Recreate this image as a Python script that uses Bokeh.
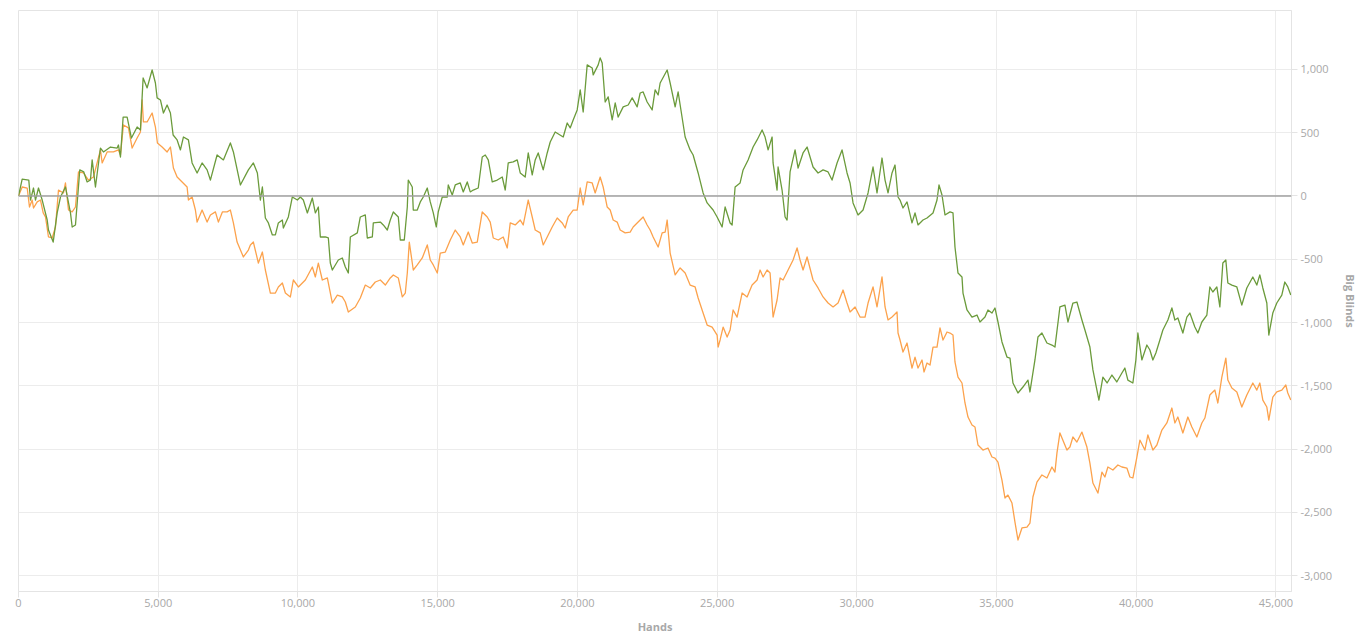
from bokeh.plotting import figure
from bokeh.models import ColumnDataSource, Range1d, Span, NumeralTickFormatter, FixedTicker
from bokeh.embed import file_html
from bokeh.resources import INLINE

# (hands, big blinds) readings for the two cumulative curves
green_series = [(0,0),(132,134),(368,126),(429,-32),(537,63),(608,-32),(715,63),(848,-32),(1027,-190),(1073,-269),
(1241,-364),(1384,-134),(1502,-8),(1681,71),(1860,-134),(1921,-245),(2039,-229),(2193,206),(2336,190),(2457,111),
(2575,126),(2636,285),(2754,71),(2933,379),(3040,348),(3291,387),(3530,379),(3577,403),(3649,308),(3745,624),
(3888,624),(4042,458),(4246,545),(4364,522),(4460,933),(4604,854),(4782,996),(4900,893),(4961,775),(5079,759),
(5187,656),(5319,719),(5437,656),(5534,482),(5677,443),(5795,364),(5902,466),(6081,443),(6213,261),(6392,182),
(6571,261),(6750,206),(6868,126),(7107,324),(7333,285),(7583,419),(7691,348),(7941,87),(8227,206),(8406,261),
(8549,182),(8656,-32),(8728,71),(8835,-174),(8943,-213),(9086,-308),(9193,-308),(9300,-213),(9443,-190),(9479,-253),
(9658,-166),(9801,-8),(9980,-32),(10087,-8),(10194,-32),(10338,-134),(10516,-16),(10624,-134),(10731,-87),(10803,-324),
(10981,-324),(11089,-332),(11160,-530),(11232,-585),(11446,-506),(11589,-490),(11697,-561),(11804,-609),(11876,-324),(12126,-292),
(12233,-166),(12412,-150),(12484,-332),(12663,-324),(12698,-213),(12949,-206),(13056,-229),(13199,-269),(13306,-190),(13414,-126),
(13593,-166),(13664,-348),(13807,-348),(13915,-87),(13950,126),(14093,71),(14129,-111),(14272,-111),(14380,-47),(14487,-8),
(14630,63),(14737,-47),(14845,-134),(14952,-245),(15023,-126),(15166,-8),(15345,-8),(15381,87),(15524,8),(15631,87),
(15810,103),(15918,32),(16061,111),(16168,32),(16275,47),(16454,63),(16597,308),(16705,324),(16812,285),(16955,111),
(17134,126),(17313,150),(17420,47),(17527,261),(17706,269),(17849,285),(17957,182),(18135,150),(18243,340),(18386,166),
(18493,285),(18600,340),(18779,206),(18922,340),(19030,427),(19208,506),(19495,466),(19638,577),(19745,538),(19852,601),
(19995,680),(20103,838),(20210,664),(20353,1036),(20532,1012),(20568,957),(20747,1036),(20818,1091),(20890,1051),(20997,743),
(21104,783),(21248,601),(21355,735),(21462,624),(21641,704),(21820,719),(21963,775),(22142,704),(22249,814),(22356,822),
(22499,743),(22678,680),(22785,838),(22893,798),(22964,893),(23215,996),(23322,893),(23501,704),(23608,822),(23859,466),
(24037,364),(24145,324),(24324,182),(24502,24),(24646,-55),(24860,-111),(25003,-166),(25182,-245),(25289,-87),(25468,-213),
(25540,-229),(25647,71),(25826,103),(25933,206),(26112,285),(26291,387),(26434,443),(26613,522),(26720,466),(26828,364),
(26971,466),(27006,261),(27149,47),(27185,229),(27328,47),(27436,-166),(27507,-190),(27614,190),(27793,364),(27901,221),
(28079,340),(28223,387),(28437,229),(28616,182),(28795,206),(28974,190),(29117,126),(29296,261),(29474,364),(29653,182),
(29761,103),(29868,-55),(30047,-150),(30226,-111),(30405,24),(30583,229),(30726,24),(30905,300),(31013,126),(31120,24),
(31263,182),(31370,245),(31478,-8),(31549,-32),(31656,-95),(31800,-47),(31978,-213),(32086,-134),(32193,-229),(32372,-190),
(32515,-174),(32730,-134),(32873,-32),(32944,87),(33051,8),(33159,-150),(33338,-126),(33445,-134),(33516,-403),(33624,-609),
(33767,-640),(33803,-767),(33946,-901),(34125,-957),(34303,-941),(34411,-996),(34590,-957),(34697,-901),(34840,-925),(34947,-885),
(35055,-996),(35198,-1154),(35377,-1273),(35484,-1281),(35591,-1478),(35770,-1557),(35949,-1510),(36128,-1455),(36199,-1549),(36378,-1296),
(36485,-1115),(36628,-1083),(36807,-1162),(36986,-1178),(37094,-1194),(37201,-1004),(37272,-877),(37452,-862),(37559,-996),(37737,-846),
(37880,-838),(38059,-980),(38167,-1059),(38345,-1194),(38453,-1375),(38596,-1534),(38667,-1613),(38810,-1431),(38960,-1478),(39133,-1415),
(39307,-1470),(39490,-1399),(39597,-1360),(39704,-1455),(39883,-1478),(39990,-1296),(40062,-1083),(40205,-1296),(40384,-1178),(40492,-1217),
(40599,-1296),(40706,-1241),(40849,-1138),(40957,-1059),(41136,-980),(41279,-885),(41386,-980),(41493,-964),(41672,-1083),(41815,-957),
(41922,-925),(42101,-1036),(42209,-1083),(42352,-996),(42531,-941),(42638,-719),(42745,-759),(42888,-719),(42996,-877),(43103,-530),
(43210,-506),(43282,-688),(43425,-704),(43604,-719),(43782,-862),(43961,-727),(44176,-640),(44319,-704),(44426,-624),(44534,-727),
(44677,-846),(44748,-1099),(44891,-925),(45034,-846),(45213,-783),(45321,-680),(45428,-719),(45535,-783)]

orange_series = [(0,0),(132,71),(311,63),(393,-87),(490,-32),(537,-95),(669,-47),(787,-32),(884,-134),(966,-166),
(1073,-324),(1205,-332),(1323,-245),(1431,47),(1610,24),(1681,103),(1789,-111),(1921,-126),(2039,-87),(2146,190),
(2325,182),(2504,126),(2683,150),(2933,364),(2994,261),(3173,348),(3398,348),(3577,364),(3649,324),(3756,561),
(3935,538),(4067,379),(4246,458),(4364,506),(4425,759),(4471,585),(4604,585),(4782,656),(4900,545),(4972,419),
(5140,387),(5319,348),(5437,387),(5544,221),(5677,150),(5856,111),(6034,71),(6081,-32),(6213,-8),(6331,-111),
(6392,-206),(6571,-111),(6750,-206),(6868,-150),(7047,-126),(7154,-206),(7297,-126),(7465,-126),(7583,-111),(7691,-213),
(7823,-364),(8048,-482),(8227,-427),(8299,-387),(8406,-364),(8585,-530),(8728,-443),(8835,-585),(9014,-767),(9193,-767),
(9300,-719),(9443,-688),(9551,-767),(9730,-798),(9837,-664),(10016,-719),(10266,-664),(10516,-561),(10624,-640),(10731,-530),
(10874,-664),(11053,-648),(11232,-846),(11411,-783),(11589,-798),(11697,-838),(11804,-917),(12054,-877),(12233,-806),(12412,-704),
(12591,-727),(12770,-680),(12949,-664),(13128,-704),(13306,-648),(13414,-624),(13593,-648),(13736,-798),(13843,-767),(13915,-609),
(13986,-364),(14129,-585),(14272,-545),(14451,-490),(14630,-387),(14737,-506),(14845,-545),(14988,-609),(15095,-451),(15274,-443),
(15453,-348),(15631,-269),(15810,-324),(15918,-387),(16097,-285),(16240,-372),(16418,-364),(16597,-126),(16776,-166),(16883,-206),
(16991,-332),(17170,-348),(17348,-324),(17492,-411),(17599,-213),(17778,-229),(17957,-190),(18064,-229),(18243,-32),(18386,-166),
(18493,-269),(18672,-292),(18779,-387),(18958,-308),(19101,-245),(19280,-174),(19459,-213),(19566,-253),(19674,-166),(19852,-111),
(19995,-111),(20103,63),(20210,-71),(20353,111),(20532,103),(20639,24),(20818,150),(20925,71),(21068,-87),(21176,-111),
(21283,-190),(21426,-206),(21534,-269),(21712,-292),(21891,-285),(21999,-245),(22177,-206),(22356,-166),(22499,-229),(22606,-269),
(22714,-324),(22893,-403),(23036,-292),(23143,-285),(23215,-190),(23322,-451),(23501,-624),(23680,-569),(23859,-609),(24037,-704),
(24216,-719),(24324,-806),(24502,-925),(24646,-1020),(24825,-1036),(25003,-1099),(25039,-1194),(25110,-1138),(25218,-1036),(25361,-1115),
(25468,-1059),(25575,-901),(25718,-957),(25897,-767),(26076,-798),(26255,-704),(26434,-664),(26541,-585),(26649,-640),(26792,-585),
(26899,-609),(27006,-957),(27149,-822),(27257,-648),(27364,-664),(27543,-585),(27722,-506),(27865,-411),(27972,-506),(28079,-585),
(28223,-482),(28437,-664),(28616,-727),(28795,-798),(28974,-846),(29153,-877),(29331,-846),(29510,-743),(29653,-846),(29761,-917),
(29940,-877),(30118,-957),(30297,-957),(30405,-846),(30583,-719),(30726,-877),(30905,-640),(31013,-877),(31120,-980),(31263,-957),
(31442,-917),(31478,-1083),(31549,-1138),(31656,-1233),(31800,-1162),(31978,-1360),(32086,-1273),(32193,-1360),(32336,-1296),(32408,-1391),
(32515,-1320),(32622,-1336),(32730,-1194),(32873,-1194),(32980,-1043),(33088,-1138),(33231,-1075),(33338,-1083),(33445,-1099),(33516,-1312),
(33624,-1431),(33767,-1478),(33874,-1636),(33982,-1747),(34125,-1810),(34232,-1826),(34339,-1968),(34518,-2008),(34697,-1992),(34840,-2063),
(34947,-2071),(35055,-2103),(35198,-2245),(35305,-2387),(35412,-2364),(35556,-2427),(35663,-2577),(35770,-2719),(35913,-2624),(36092,-2617),
(36199,-2585),(36306,-2379),(36449,-2261),(36628,-2205),(36807,-2229),(36986,-2142),(37094,-2182),(37165,-2032),(37272,-1873),(37523,-2008),
(37630,-1984),(37737,-1905),(37880,-1945),(38059,-1866),(38238,-1984),(38345,-2111),(38453,-2269),(38632,-2348),(38775,-2182),(38882,-2221),
(38989,-2142),(39168,-2166),(39347,-2126),(39490,-2142),(39669,-2150),(39776,-2221),(39883,-2229),(40026,-2063),(40134,-1929),(40313,-2008),
(40420,-1889),(40599,-2008),(40742,-1968),(40921,-1850),(41100,-1794),(41279,-1676),(41386,-1794),(41493,-1747),(41672,-1873),(41851,-1747),
(41994,-1826),(42173,-1905),(42352,-1794),(42459,-1755),(42638,-1573),(42817,-1534),(42924,-1636),(43067,-1431),(43210,-1281),(43282,-1455),
(43425,-1518),(43604,-1549),(43782,-1668),(43961,-1573),(44176,-1478),(44319,-1534),(44426,-1478),(44534,-1613),(44677,-1668),(44748,-1771),
(44891,-1589),(45034,-1549),(45213,-1534),(45356,-1494),(45428,-1557),(45535,-1613)]

x_ticks = [0, 5000, 10000, 15000, 20000, 25000, 30000, 35000, 40000, 45000]
y_ticks = [-3000, -2500, -2000, -1500, -1000, -500, 0, 500, 1000]
x_title = "Hands"
y_title = "Big Blinds"

FONT = "Open Sans"
LABEL_COLOR = "#a8a8a8"
GRID_COLOR = "#ececec"

gx, gy = zip(*green_series)
ox, oy = zip(*orange_series)
green_src = ColumnDataSource(dict(hands=list(gx), bb=list(gy)))
orange_src = ColumnDataSource(dict(hands=list(ox), bb=list(oy)))

p = figure(width=1362, height=636, output_backend="svg", toolbar_location=None,
           y_axis_location="right",
           x_range=Range1d(0, 45560), y_range=Range1d(-3126, 1466),
           min_border_left=18, min_border_top=10, min_border_right=71, min_border_bottom=45)

p.background_fill_color = "white"
p.border_fill_color = "white"
p.outline_line_color = "#e4e4e4"
p.outline_line_width = 1

zero = Span(location=0, dimension="width", line_color="#a0a0a0", line_width=1.5)
p.add_layout(zero)

p.line("hands", "bb", source=orange_src, line_color="#fca24c", line_width=1.3, line_join="round")
p.line("hands", "bb", source=green_src, line_color="#6b9b3b", line_width=1.3, line_join="round")

for ax, ticks in ((p.xaxis[0], x_ticks), (p.yaxis[0], y_ticks)):
    ax.ticker = FixedTicker(ticks=ticks)
    ax.formatter = NumeralTickFormatter(format="0,0")
    ax.major_label_text_font = FONT
    ax.major_label_text_font_size = "11px"
    ax.major_label_text_color = LABEL_COLOR
    ax.axis_line_color = "#e4e4e4"
    ax.major_tick_line_color = "#e4e4e4"
    ax.major_tick_out = 6
    ax.major_tick_in = 0
    ax.minor_tick_line_color = None
    ax.axis_label_text_font = FONT
    ax.axis_label_text_font_size = "11px"
    ax.axis_label_text_font_style = "bold"
    ax.axis_label_text_color = LABEL_COLOR

p.xaxis[0].axis_label = x_title
p.xaxis[0].major_label_standoff = 1
p.xaxis[0].axis_label_standoff = 9
p.yaxis[0].axis_label = y_title
p.yaxis[0].major_label_standoff = 3
p.yaxis[0].axis_label_standoff = 8

p.xgrid.ticker = FixedTicker(ticks=x_ticks)
p.ygrid.ticker = FixedTicker(ticks=y_ticks)
p.xgrid.grid_line_color = GRID_COLOR
p.ygrid.grid_line_color = GRID_COLOR

open("out.html", "w").write(file_html(p, INLINE))
